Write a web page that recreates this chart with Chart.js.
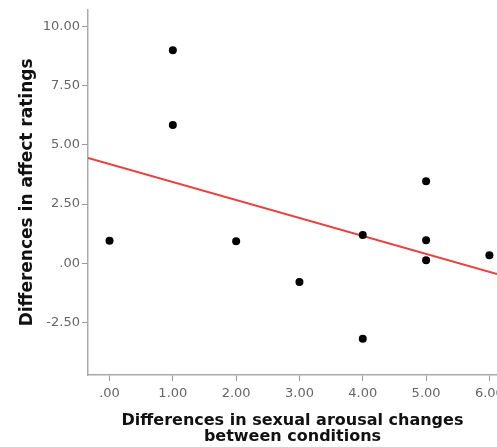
<!DOCTYPE html>
<html>
<head>
<meta charset="utf-8">
<script src="https://cdn.jsdelivr.net/npm/chart.js@4/dist/chart.umd.min.js"></script>
<style>
  body { margin: 0; background: #fff; }
  #wrap { width: 497px; height: 447px; }
</style>
</head>
<body>
<div id="wrap"><canvas id="scatter" width="497" height="447"></canvas></div>
<script>
// Values
const arousalDiff = [0, 1, 1, 2, 3, 4, 4, 5, 5, 5, 6];
const affectDiff = [0.95, 9.0, 5.84, 0.93, -0.79, 1.19, -3.19, 3.47, 0.97, 0.13, 0.34];

// Fit line, visible ends
const fitX = [-0.34, 6.12];
const fitY = [4.45, -0.45];

const xTicks = [0, 1, 2, 3, 4, 5, 6];
const yTicks = [-2.5, 0, 2.5, 5, 7.5, 10];

function fmt(v) {
    return v === 0 ? ".00" : v.toFixed(2);
}

const points = arousalDiff.map((x, i) => ({ x: x, y: affectDiff[i] }));
const fitLine = fitX.map((x, i) => ({ x: x, y: fitY[i] }));

const tickFont = { family: "'DejaVu Sans', sans-serif", size: 13 };
const xTitleFont = { family: "'DejaVu Sans', sans-serif", size: 16, weight: "bold", lineHeight: 1 };
const yTitleFont = { family: "'DejaVu Sans', sans-serif", size: 17, weight: "bold", lineHeight: 1 };

new Chart(document.getElementById("scatter"), {
    type: "scatter",
    data: {
        datasets: [
            {
                label: "Fit",
                type: "line",
                data: fitLine,
                borderColor: "#e8413e",
                borderWidth: 2,
                pointRadius: 0,
                fill: false,
                order: 2
            },
            {
                label: "Observed",
                data: points,
                backgroundColor: "#000",
                borderWidth: 0,
                pointRadius: 4,
                pointHoverRadius: 4,
                order: 1
            }
        ]
    },
    options: {
        responsive: false,
        animation: false,
        layout: { autoPadding: false, padding: { top: 8, right: 0, left: 0, bottom: 0 } },
        plugins: {
            legend: { display: false },
            tooltip: { enabled: false }
        },
        scales: {
            x: {
                type: "linear",
                min: fitX[0],
                max: fitX[1],
                afterFit: s => { s.height = 72; s.paddingRight = 0; s.paddingLeft = 0; },
                afterBuildTicks: s => { s.ticks = xTicks.map(v => ({ value: v })); },
                ticks: {
                    color: "#666",
                    font: tickFont,
                    padding: 5,
                    maxRotation: 0,
                    callback: v => fmt(v)
                },
                grid: {
                    drawOnChartArea: false,
                    tickLength: 6,
                    color: "#999"
                },
                border: { color: "#aaa", width: 1.5 },
                title: {
                    display: true,
                    text: ["Differences in sexual arousal changes", "between conditions"],
                    color: "#111",
                    font: xTitleFont,
                    padding: { top: 0, bottom: 2 }
                }
            },
            y: {
                type: "linear",
                min: -4.72,
                max: 10.71,
                afterFit: s => { s.width = 88; },
                afterBuildTicks: s => { s.ticks = yTicks.map(v => ({ value: v })); },
                ticks: {
                    color: "#666",
                    font: tickFont,
                    padding: 2,
                    callback: v => fmt(v)
                },
                grid: {
                    drawOnChartArea: false,
                    tickLength: 6,
                    color: "#999"
                },
                border: { color: "#aaa", width: 1.5 },
                title: {
                    display: true,
                    text: "Differences in affect ratings",
                    color: "#111",
                    font: yTitleFont,
                    padding: { top: 19, bottom: 0 }
                }
            }
        }
    }
});
</script>
</body>
</html>
